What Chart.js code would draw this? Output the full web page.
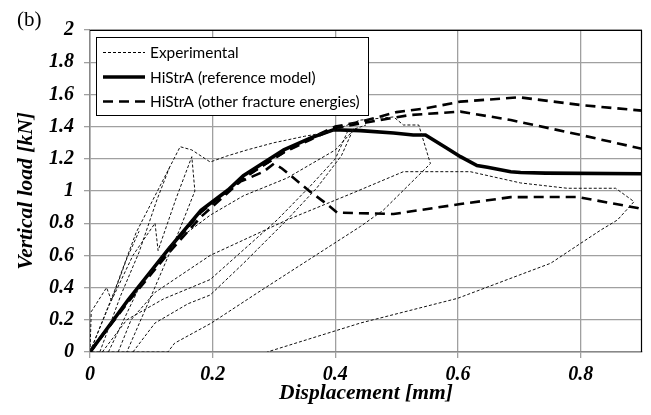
<!DOCTYPE html>
<html><head><meta charset="utf-8">
<script src="https://cdn.jsdelivr.net/npm/chart.js@4/dist/chart.umd.min.js"></script>
<style>
html,body{margin:0;padding:0;background:#fff;}
#wrap{position:relative;width:651px;height:415px;}
#lbl{position:absolute;left:17px;top:7px;font:21px "Liberation Serif",serif;color:#000;}
</style></head><body>
<div id="wrap"><canvas id="c" width="651" height="415"></canvas><div id="lbl">(b)</div></div>
<script>
// ---- data ----
const legendLabels = ['Experimental', 'HiStrA (reference model)', 'HiStrA (other fracture energies)'];
const xTicks = [0, 0.2, 0.4, 0.6, 0.8];
const yTicks = [0, 0.2, 0.4, 0.6, 0.8, 1, 1.2, 1.4, 1.6, 1.8, 2];

const refX = [0, 0.062, 0.127, 0.181, 0.225, 0.25, 0.316, 0.36, 0.397, 0.441, 0.495, 0.527, 0.547, 0.582, 0.604, 0.631, 0.648, 0.686, 0.702, 0.743, 0.9];
const refY = [0, 0.323, 0.634, 0.88, 1.006, 1.095, 1.255, 1.33, 1.38, 1.375, 1.36, 1.348, 1.348, 1.265, 1.213, 1.158, 1.147, 1.12, 1.115, 1.111, 1.107];

const otherAX = [0, 0.062, 0.127, 0.181, 0.225, 0.25, 0.316, 0.36, 0.4, 0.441, 0.5, 0.55, 0.604, 0.7, 0.8, 0.9];
const otherAY = [0, 0.32, 0.63, 0.87, 1.0, 1.08, 1.24, 1.33, 1.4, 1.43, 1.49, 1.515, 1.555, 1.582, 1.534, 1.499];
const otherBX = [0, 0.062, 0.127, 0.181, 0.225, 0.25, 0.316, 0.36, 0.4, 0.441, 0.522, 0.604, 0.686, 0.8, 0.9];
const otherBY = [0, 0.32, 0.63, 0.87, 1.0, 1.08, 1.24, 1.32, 1.39, 1.42, 1.472, 1.493, 1.441, 1.348, 1.262];
const otherCX = [0, 0.062, 0.127, 0.181, 0.245, 0.283, 0.3, 0.313, 0.359, 0.384, 0.403, 0.441, 0.495, 0.604, 0.686, 0.795, 0.893, 0.9];
const otherCY = [0, 0.31, 0.61, 0.84, 1.058, 1.12, 1.17, 1.14, 0.996, 0.925, 0.866, 0.862, 0.857, 0.919, 0.962, 0.963, 0.894, 0.885];

const exp1X = [0, 0.04, 0.075, 0.11, 0.147, 0.166, 0.196, 0.223, 0.256, 0.3, 0.35, 0.392, 0.44, 0.495, 0.511, 0.536, 0.555, 0.478, 0.441, 0.274, 0.198, 0.138, 0.127, 0];
const exp1Y = [0, 0.38, 0.74, 1.0, 1.275, 1.255, 1.18, 1.217, 1.255, 1.3, 1.34, 1.368, 1.44, 1.46, 1.41, 1.41, 1.17, 0.88, 0.78, 0.37, 0.18, 0.055, 0, 0];
const exp2X = [0, 0.03, 0.07, 0.106, 0.111, 0.14, 0.166, 0.171, 0.145, 0.1, 0.06];
const exp2Y = [0, 0.28, 0.6, 0.8, 0.63, 0.95, 1.213, 1.0, 0.75, 0.35, 0];
const exp3X = [0.046, 0.067, 0.106, 0.196, 0.321, 0.43, 0.511, 0.62, 0.702, 0.778, 0.857, 0.887, 0.86, 0.833, 0.8, 0.751, 0.599, 0.441, 0.289];
const exp3Y = [0, 0.2, 0.37, 0.6, 0.82, 0.99, 1.12, 1.12, 1.05, 1.017, 1.017, 0.934, 0.82, 0.758, 0.675, 0.551, 0.333, 0.18, 0];
const exp4X = [0.02, 0.06, 0.12, 0.196, 0.305, 0.359, 0.4, 0.42, 0.45];
const exp4Y = [0, 0.2, 0.33, 0.45, 0.82, 1.03, 1.2, 1.37, 1.41];
const exp5X = [0.07, 0.106, 0.16, 0.196, 0.25, 0.321, 0.37, 0.41, 0.43];
const exp5Y = [0, 0.18, 0.3, 0.354, 0.55, 0.82, 1.02, 1.22, 1.39];
const exp6X = [0.03, 0.08, 0.13, 0.196, 0.25, 0.321, 0.4, 0.43];
const exp6Y = [0, 0.4, 0.66, 0.85, 0.97, 1.08, 1.255, 1.38];
const exp7X = [0, 0.002, 0.027, 0.035, 0.06, 0.08];
const exp7Y = [0, 0.25, 0.4, 0.32, 0.58, 0.75];
const exp8X = [0.016, 0.05, 0.08, 0.109, 0.13];
const exp8Y = [0, 0.35, 0.62, 0.944, 1.15];

// ---- build ----
const pts = (xs, ys) => xs.map((x, i) => ({x: x, y: ys[i]}));
const expSets = [[exp1X, exp1Y], [exp2X, exp2Y], [exp3X, exp3Y], [exp4X, exp4Y], [exp5X, exp5Y], [exp6X, exp6Y], [exp7X, exp7Y], [exp8X, exp8Y]];
const common = {showLine: true, pointRadius: 0, pointHoverRadius: 0, tension: 0, fill: false};
const datasets = [];
expSets.forEach(s => datasets.push(Object.assign({}, common, {label: legendLabels[0], data: pts(s[0], s[1]), borderColor: '#111', borderWidth: 1, borderDash: [3, 2]})));
[[otherAX, otherAY], [otherBX, otherBY], [otherCX, otherCY]].forEach(s => datasets.push(Object.assign({}, common, {label: legendLabels[2], data: pts(s[0], s[1]), borderColor: '#000', borderWidth: 2.6, borderDash: [10, 6]})));
datasets.push(Object.assign({}, common, {label: legendLabels[1], data: pts(refX, refY), borderColor: '#000', borderWidth: 3.6}));

const legendPlugin = {
  id: 'boxLegend',
  afterDatasetsDraw(chart) {
    const ctx = chart.ctx, a = chart.chartArea;
    const L = a.left + 6, T = a.top + 7, W = 272, H = 78;
    ctx.save();
    ctx.fillStyle = '#fff';
    ctx.fillRect(L, T, W, H);
    ctx.strokeStyle = '#000'; ctx.lineWidth = 1;
    ctx.strokeRect(L + 0.5, T + 0.5, W, H);
    const styles = [{w: 1, d: [3, 2]}, {w: 3.6, d: []}, {w: 2.6, d: [10, 6]}];
    const rows = [15.5, 40, 64.5];
    ctx.font = '15.4px Lato, "Open Sans", sans-serif';
    ctx.textBaseline = 'middle';
    ctx.fillStyle = '#000';
    legendLabels.forEach((t, i) => {
      const y = T + rows[i];
      ctx.beginPath();
      ctx.setLineDash(styles[i].d);
      ctx.lineWidth = styles[i].w;
      ctx.moveTo(L + 7, y); ctx.lineTo(L + 49, y);
      ctx.stroke();
      ctx.setLineDash([]);
      ctx.fillText(t, L + 54, y + 1);
    });
    ctx.restore();
  },
  afterDraw(chart) {
    const ctx = chart.ctx, a = chart.chartArea;
    ctx.save();
    ctx.strokeStyle = '#000'; ctx.lineWidth = 1.2;
    ctx.beginPath();
    ctx.moveTo(a.left, a.top + 0.5); ctx.lineTo(a.right - 0.5, a.top + 0.5); ctx.lineTo(a.right - 0.5, a.bottom);
    ctx.stroke();
    ctx.restore();
  }
};

const tickFont = {family: '"Liberation Serif", serif', size: 20, weight: 'bold', style: 'italic'};
const titleFont = {family: '"Liberation Serif", serif', size: 21.5, weight: 'bold', style: 'italic'};

new Chart(document.getElementById('c'), {
  type: 'scatter',
  data: {datasets: datasets},
  options: {
    responsive: false, animation: false,
    layout: {padding: {top: 30, right: 9, left: 0, bottom: 0}},
    plugins: {legend: {display: false}, tooltip: {enabled: false}},
    scales: {
      x: {
        type: 'linear', min: 0, max: 0.9,
        afterBuildTicks: s => { s.ticks = xTicks.map(v => ({value: v})); },
        afterFit: s => { s.height = 63; },
        ticks: {color: '#000', font: tickFont, padding: 5, callback: v => String(v)},
        grid: {color: '#a0a0a0', lineWidth: 1.3, tickLength: 6, drawTicks: true},
        border: {color: '#888', width: 1.5},
        title: {display: true, text: 'Displacement [mm]', color: '#000', font: titleFont, padding: {top: 0, bottom: 9}}
      },
      y: {
        type: 'linear', min: 0, max: 2,
        afterBuildTicks: s => { s.ticks = yTicks.map(v => ({value: v})); },
        afterFit: s => { s.width = 90; },
        ticks: {color: '#000', font: tickFont, padding: 10, callback: v => String(v)},
        grid: {color: '#a0a0a0', lineWidth: 1.3, tickLength: 6, drawTicks: true},
        border: {color: '#888', width: 1.5},
        title: {display: true, text: 'Vertical load [kN]', color: '#000', font: titleFont, padding: {top: 14, bottom: 0}}
      }
    }
  },
  plugins: [legendPlugin]
});
</script>
</body></html>
